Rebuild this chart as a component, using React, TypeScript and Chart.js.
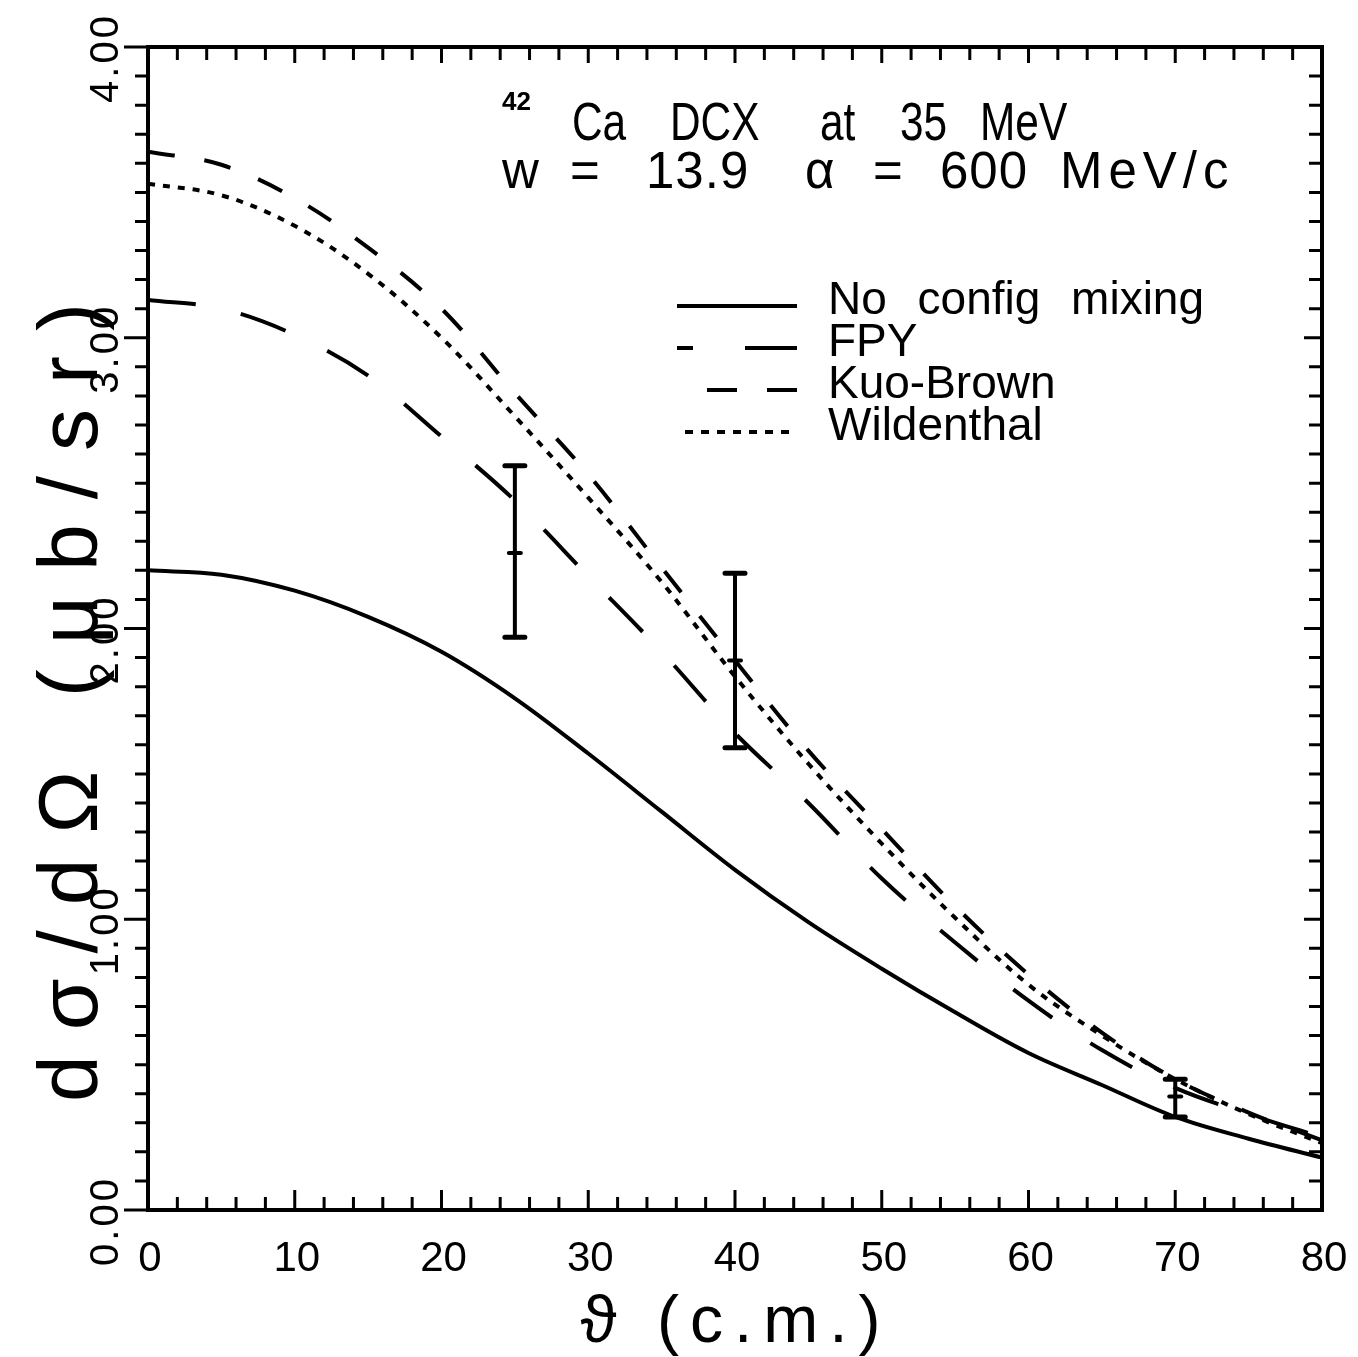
import React, { useEffect, useRef } from "react";
import { Chart, registerables } from "chart.js";

Chart.register(...registerables);

// ---- data ----
const angles = [0, 5, 10, 15, 20, 25, 30, 35, 40, 45, 50, 55, 60, 65, 70, 75, 80];
const noConfigMixing = [2.2, 2.185, 2.13, 2.04, 1.92, 1.76, 1.57, 1.37, 1.17, 0.99, 0.83, 0.68, 0.54, 0.43, 0.32, 0.245, 0.18];
const fpy = [3.13, 3.1, 3.01, 2.87, 2.66, 2.44, 2.18, 1.92, 1.64, 1.4, 1.14, 0.92, 0.72, 0.55, 0.42, 0.33, 0.25];
const kuoBrown = [3.64, 3.595, 3.48, 3.31, 3.1, 2.81, 2.53, 2.21, 1.89, 1.58, 1.31, 1.045, 0.81, 0.61, 0.45, 0.335, 0.24];
const wildenthal = [3.53, 3.49, 3.385, 3.22, 3.0, 2.73, 2.45, 2.16, 1.835, 1.535, 1.26, 1.005, 0.775, 0.6, 0.45, 0.33, 0.23];

const measuredAngles = [25, 40, 70];
const measuredValues = [2.26, 1.89, 0.39];
const measuredLow = [1.97, 1.59, 0.32];
const measuredHigh = [2.56, 2.19, 0.45];

const seriesNames = ["No config mixing", "FPY", "Kuo-Brown", "Wildenthal"];
const xTickLabels = ["0", "10", "20", "30", "40", "50", "60", "70", "80"];
const yTickLabels = ["0.00", "1.00", "2.00", "3.00", "4.00"];

const xTitle = "\u03D1 (c.m.)";
const yTitle = "d\u03C3/d\u03A9 (\u03BCb/sr)";
const annotIsotope = "42";
const annotLine1 = ["Ca", "DCX", "at", "35", "MeV"];
const annotLine2 = ["w", "=", "13.9", "\u03B1", "=", "600", "MeV/c"];

// ---- styles ----
const FONT = '"Liberation Sans", Arial, sans-serif';
const curveDashes = [[], [48, 46], [27, 30], [7, 8]];
const legendSamples = [
  { start: 677, dash: [] as number[] },
  { start: 677, dash: [16, 52, 52, 0] },
  { start: 707, dash: [30, 30] },
  { start: 685, dash: [8, 8] },
];

const framePlugin = {
  id: "framePlugin",
  afterDatasetsDraw(chart: any) {
    const ctx = chart.ctx;
    const xs = chart.scales.x;
    const ys = chart.scales.y;
    ctx.save();
    ctx.strokeStyle = "#000";
    ctx.lineCap = "round";
    for (let i = 0; i < measuredAngles.length; i++) {
      const px = xs.getPixelForValue(measuredAngles[i]);
      const pLo = ys.getPixelForValue(measuredLow[i]);
      const pHi = ys.getPixelForValue(measuredHigh[i]);
      const pc = ys.getPixelForValue(measuredValues[i]);
      ctx.lineWidth = 4;
      ctx.beginPath();
      ctx.moveTo(px, pLo);
      ctx.lineTo(px, pHi);
      ctx.stroke();
      ctx.lineWidth = 5;
      ctx.beginPath();
      ctx.moveTo(px - 10, pLo);
      ctx.lineTo(px + 10, pLo);
      ctx.moveTo(px - 10, pHi);
      ctx.lineTo(px + 10, pHi);
      ctx.stroke();
      ctx.lineWidth = 4;
      ctx.beginPath();
      ctx.moveTo(px - 6, pc);
      ctx.lineTo(px + 6, pc);
      ctx.stroke();
    }
    ctx.restore();
  },
  afterDraw(chart: any) {
    const ctx = chart.ctx;
    const xs = chart.scales.x;
    const ys = chart.scales.y;
    const { left, right, top, bottom } = chart.chartArea;
    ctx.save();
    ctx.strokeStyle = "#000";
    ctx.fillStyle = "#000";
    ctx.lineCap = "butt";
    // frame
    ctx.lineWidth = 4;
    ctx.strokeRect(left, top, right - left, bottom - top);
    // x ticks (bottom & top, inward)
    ctx.lineWidth = 3;
    ctx.beginPath();
    for (let v = 0; v <= 80; v += 2) {
      const px = xs.getPixelForValue(v);
      const major = v % 10 === 0;
      ctx.moveTo(px, bottom);
      ctx.lineTo(px, bottom - (major ? 20 : 13));
      ctx.moveTo(px, top);
      ctx.lineTo(px, top + (major ? 16 : 13));
    }
    // y ticks: left outward, right inward
    for (let k = 0; k <= 40; k++) {
      const v = k / 10;
      const py = ys.getPixelForValue(v);
      const major = k % 10 === 0;
      ctx.moveTo(left, py);
      ctx.lineTo(left - (major ? 24 : 13), py);
      ctx.moveTo(right, py);
      ctx.lineTo(right - (major ? 18 : 13), py);
    }
    ctx.stroke();

    // x tick labels
    ctx.font = `42px ${FONT}`;
    ctx.textAlign = "center";
    ctx.textBaseline = "alphabetic";
    xTickLabels.forEach((lab) => {
      const px = xs.getPixelForValue(Number(lab));
      ctx.fillText(lab, px + 2, 1271);
    });
    // y tick labels (rotated)
    yTickLabels.forEach((lab) => {
      const py = ys.getPixelForValue(Number(lab));
      ctx.save();
      ctx.font = `40px ${FONT}`;
      (ctx as any).letterSpacing = "3px";
      ctx.translate(118, py + 11);
      ctx.rotate(-Math.PI / 2);
      ctx.textAlign = "center";
      ctx.textBaseline = "alphabetic";
      ctx.fillText(lab, 0, 0);
      ctx.restore();
    });

    // axis titles
    ctx.save();
    ctx.font = `66px ${FONT}`;
    (ctx as any).letterSpacing = "11px";
    ctx.textAlign = "center";
    ctx.textBaseline = "alphabetic";
    ctx.fillText(xTitle, 736, 1342);
    ctx.restore();

    ctx.save();
    ctx.translate(97, 690);
    ctx.rotate(-Math.PI / 2);
    ctx.font = `84px ${FONT}`;
    (ctx as any).letterSpacing = "25px";
    ctx.textAlign = "center";
    ctx.textBaseline = "alphabetic";
    ctx.fillText(yTitle, 0, 0);
    ctx.restore();

    // annotation
    ctx.textAlign = "left";
    ctx.textBaseline = "alphabetic";
    ctx.font = `bold 26px ${FONT}`;
    ctx.fillText(annotIsotope, 502, 110);
    ctx.font = `53px ${FONT}`;
    const line1X = [572, 670, 820, 900, 980];
    annotLine1.forEach((w, i) => {
      ctx.save();
      ctx.translate(line1X[i], 140);
      ctx.scale(0.8, 1);
      ctx.fillText(w, 0, 0);
      ctx.restore();
    });
    const line2X = [502, 570, 646, 805, 873, 940, 1060];
    annotLine2.forEach((w, i) => {
      ctx.save();
      ctx.font = `51px ${FONT}`;
      (ctx as any).letterSpacing = i === 6 ? "6px" : "1px";
      ctx.fillText(w, line2X[i], 188);
      ctx.restore();
    });

    // legend
    ctx.font = `46px ${FONT}`;
    (ctx as any).wordSpacing = "18px";
    const baselines = [314, 356, 398, 440];
    seriesNames.forEach((name, i) => {
      const by = baselines[i];
      ctx.fillText(name, 828, by);
      ctx.save();
      ctx.lineWidth = 4;
      ctx.setLineDash(legendSamples[i].dash);
      ctx.beginPath();
      ctx.moveTo(legendSamples[i].start, by - 8);
      ctx.lineTo(797, by - 8);
      ctx.stroke();
      ctx.restore();
    });
    ctx.restore();
  },
};

export default function App() {
  const canvasRef = useRef<HTMLCanvasElement | null>(null);

  useEffect(() => {
    if (!canvasRef.current) return;
    const series = [noConfigMixing, fpy, kuoBrown, wildenthal];
    const chart = new Chart(canvasRef.current, {
      type: "line",
      data: {
        datasets: series.map((vals, i) => ({
          label: seriesNames[i],
          data: angles.map((a, j) => ({ x: a, y: vals[j] })),
          borderColor: "#000",
          borderWidth: 4,
          borderDash: curveDashes[i],
          pointRadius: 0,
          fill: false,
          tension: 0.35,
        })),
      },
      options: {
        animation: false,
        responsive: true,
        maintainAspectRatio: false,
        layout: { padding: { left: 148, top: 47, right: 36, bottom: 147 } },
        scales: {
          x: { type: "linear", min: 0, max: 80, display: false },
          y: { type: "linear", min: 0, max: 4, display: false },
        },
        plugins: { legend: { display: false }, tooltip: { enabled: false } },
      },
      plugins: [framePlugin],
    });
    return () => chart.destroy();
  }, []);

  return (
    <div style={{ position: "fixed", left: 0, top: 0, width: 1358, height: 1357, background: "#fff" }}>
      <canvas ref={canvasRef} />
    </div>
  );
}
